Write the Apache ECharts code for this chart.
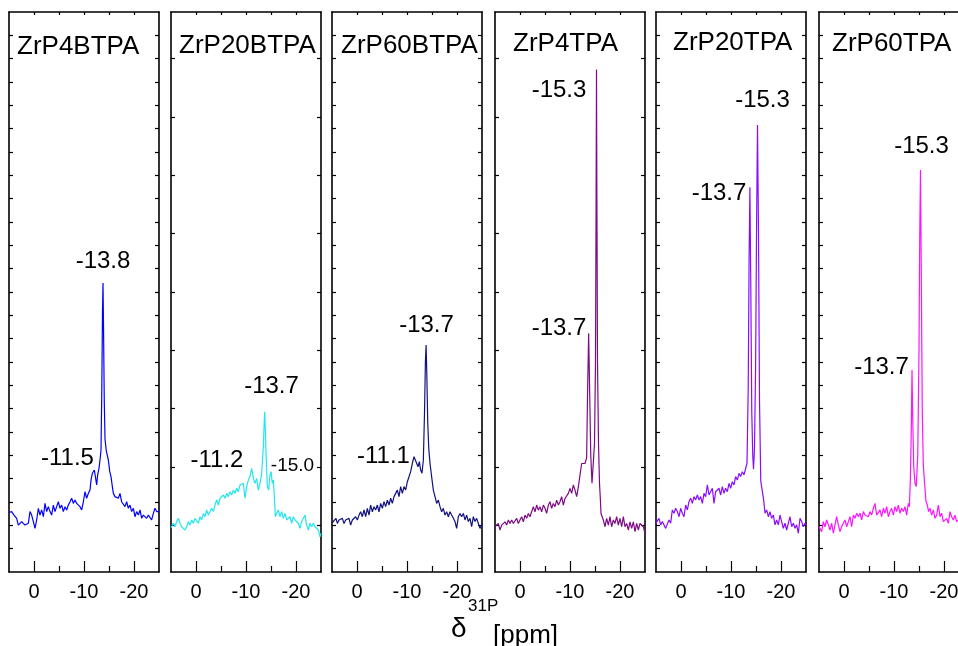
<!DOCTYPE html>
<html><head><meta charset="utf-8">
<script src="https://cdn.jsdelivr.net/npm/echarts@6/dist/echarts.min.js"></script>
<style>html,body{margin:0;padding:0;background:#fff}#c{width:958px;height:646px}</style>
</head><body><div id="c"></div>
<script>
// ---------- data ----------
const names = ['ZrP4BTPA','ZrP20BTPA','ZrP60BTPA','ZrP4TPA','ZrP20TPA','ZrP60TPA'];

// spectra: [delta ppm, intensity]
const p1 = [[5.0,2.55],[4.8,2.59],[4.47,2.59],[4.0,2.44],[3.47,2.30],[3.13,2.01],[2.47,2.16],[1.8,2.01],[1.13,2.09],[0.8,2.59],[0.47,2.44],[0.13,2.16],[-0.2,1.87],[-0.53,2.23],[-0.87,2.73],[-1.2,2.44],[-1.53,2.66],[-1.87,2.37],[-2.2,2.94],[-2.53,2.59],[-2.87,2.80],[-3.2,2.59],[-3.53,2.44],[-3.87,2.87],[-4.2,2.59],[-4.53,2.80],[-4.87,3.01],[-5.2,2.73],[-5.53,2.87],[-5.87,2.59],[-6.2,2.80],[-6.53,2.66],[-6.87,2.87],[-7.2,3.01],[-7.53,3.16],[-7.87,2.94],[-8.2,3.09],[-8.53,2.94],[-8.87,3.01],[-9.2,2.80],[-9.53,2.66],[-9.87,3.01],[-10.2,3.44],[-10.53,3.16],[-10.87,3.37],[-11.2,3.51],[-11.4,3.94],[-11.67,4.23],[-11.87,4.16],[-12.07,4.37],[-12.33,4.01],[-12.53,3.73],[-12.73,4.16],[-13.0,4.44],[-13.2,4.80],[-13.4,5.23],[-13.55,7.6],[-13.7,11.2],[-13.8,12.39],[-13.9,10.6],[-14.05,7.4],[-14.2,5.7],[-14.45,5.2],[-14.87,4.80],[-15.15,4.3],[-15.4,4.09],[-15.67,3.66],[-15.87,3.37],[-16.2,3.23],[-16.53,3.30],[-16.87,3.16],[-17.2,3.37],[-17.53,3.01],[-17.87,3.09],[-18.2,2.80],[-18.53,3.01],[-18.87,2.73],[-19.2,2.87],[-19.53,2.59],[-19.87,2.73],[-20.2,2.37],[-20.53,2.59],[-20.87,2.44],[-21.2,2.66],[-21.53,2.30],[-21.87,2.44],[-22.2,2.51],[-22.53,2.30],[-22.87,2.44],[-23.2,2.51],[-23.53,2.23],[-23.87,2.51],[-24.2,2.73],[-24.53,2.59],[-24.87,2.66],[-25.0,2.59]];

const p2 = [[5.0,1.9],[4.87,1.94],[4.53,2.09],[4.2,1.94],[3.87,2.16],[3.53,2.30],[3.2,2.09],[2.87,1.94],[2.53,2.01],[2.2,1.80],[1.87,1.94],[1.53,2.16],[1.2,2.01],[0.87,2.23],[0.53,2.09],[0.2,2.30],[-0.13,2.23],[-0.47,2.09],[-0.8,2.37],[-1.13,2.23],[-1.47,2.51],[-1.8,2.37],[-2.13,2.66],[-2.47,2.44],[-2.8,2.51],[-3.13,2.73],[-3.47,2.59],[-3.8,2.87],[-4.13,3.09],[-4.47,2.87],[-4.8,3.16],[-5.13,3.09],[-5.47,3.30],[-5.8,3.16],[-6.13,3.37],[-6.47,3.23],[-6.8,3.44],[-7.13,3.30],[-7.47,3.51],[-7.8,3.37],[-8.13,3.59],[-8.47,3.44],[-8.8,3.73],[-9.13,3.66],[-9.47,3.80],[-9.8,3.16],[-10.13,3.66],[-10.47,3.94],[-10.8,4.09],[-11.13,4.44],[-11.47,4.01],[-11.8,3.80],[-12.13,4.01],[-12.47,3.51],[-12.8,3.80],[-13.13,4.23],[-13.47,5.37],[-13.6,6.2],[-13.73,6.87],[-13.87,6.1],[-14.0,5.1],[-14.27,3.66],[-14.53,3.51],[-14.8,4.16],[-15.0,4.30],[-15.27,3.80],[-15.47,3.94],[-15.67,3.23],[-15.87,2.37],[-16.13,2.51],[-16.47,2.66],[-16.8,2.37],[-17.13,2.59],[-17.47,2.30],[-17.8,2.51],[-18.13,2.23],[-18.47,2.16],[-18.8,2.37],[-19.13,2.09],[-19.47,2.37],[-19.8,2.23],[-20.13,2.30],[-20.47,2.09],[-20.8,1.87],[-21.13,2.16],[-21.47,2.23],[-21.8,2.44],[-22.13,2.01],[-22.47,1.80],[-22.8,2.09],[-23.13,1.94],[-23.47,2.09],[-23.8,1.94],[-24.13,2.01],[-24.47,1.80],[-24.8,1.51],[-25.0,1.66]];

const p3 = [[5.0,2.1],[4.6,2.08],[4.2,2.30],[3.93,2.08],[3.6,2.23],[3.27,2.16],[2.93,2.30],[2.6,2.08],[2.27,2.23],[1.93,2.16],[1.6,2.30],[1.27,2.01],[0.93,2.23],[0.6,2.16],[0.27,2.37],[-0.07,2.23],[-0.4,2.44],[-0.73,2.58],[-1.07,2.37],[-1.4,2.66],[-1.73,2.37],[-2.07,2.73],[-2.4,2.44],[-2.73,2.87],[-3.07,2.58],[-3.4,2.80],[-3.73,2.66],[-4.07,2.87],[-4.4,2.58],[-4.73,2.94],[-5.07,2.73],[-5.4,3.01],[-5.73,2.80],[-6.07,3.08],[-6.4,2.87],[-6.73,3.16],[-7.07,2.94],[-7.4,3.23],[-7.73,3.37],[-8.07,3.51],[-8.4,3.23],[-8.73,3.66],[-9.07,3.37],[-9.4,3.66],[-9.73,3.51],[-10.07,3.87],[-10.4,4.08],[-10.73,4.30],[-11.07,4.66],[-11.4,4.94],[-11.67,4.80],[-11.93,4.87],[-12.2,4.51],[-12.47,4.73],[-12.73,4.37],[-13.0,4.23],[-13.27,4.80],[-13.5,6.8],[-13.68,9.0],[-13.82,9.73],[-13.97,8.4],[-14.15,6.4],[-14.35,5.3],[-14.6,4.66],[-14.93,4.08],[-15.27,3.51],[-15.6,3.23],[-15.93,2.94],[-16.27,3.08],[-16.6,2.80],[-16.93,2.58],[-17.27,2.73],[-17.6,2.44],[-17.93,2.58],[-18.27,2.37],[-18.6,2.58],[-18.93,2.44],[-19.27,2.30],[-19.6,2.16],[-19.93,1.87],[-20.27,2.37],[-20.6,2.51],[-20.93,2.37],[-21.27,2.51],[-21.6,2.23],[-21.93,2.44],[-22.27,2.16],[-22.6,2.30],[-22.93,1.94],[-23.27,2.37],[-23.6,2.16],[-23.93,2.30],[-24.27,2.08],[-24.6,1.87],[-24.93,2.01],[-25.0,2.05]];

const p4 = [[5.0,1.95],[4.67,1.94],[4.33,2.08],[4.0,1.80],[3.67,2.01],[3.33,1.94],[3.0,2.15],[2.67,2.01],[2.33,2.23],[2.0,2.08],[1.67,2.23],[1.33,2.08],[1.0,2.15],[0.67,2.30],[0.33,2.08],[0.0,2.23],[-0.33,2.37],[-0.67,2.15],[-1.0,2.44],[-1.33,2.30],[-1.67,2.51],[-2.0,2.37],[-2.33,2.58],[-2.67,2.80],[-3.0,2.58],[-3.33,2.87],[-3.67,2.65],[-4.0,2.80],[-4.33,2.58],[-4.67,2.87],[-5.0,2.73],[-5.33,2.51],[-5.67,2.87],[-6.0,3.01],[-6.33,2.73],[-6.67,2.94],[-7.0,2.80],[-7.33,3.08],[-7.67,2.87],[-8.0,3.01],[-8.33,3.23],[-8.67,2.87],[-9.0,3.15],[-9.33,3.08],[-9.67,3.37],[-10.0,3.58],[-10.33,3.37],[-10.67,3.73],[-11.0,3.51],[-11.33,3.23],[-11.67,3.65],[-12.0,3.73],[-12.33,4.65],[-12.67,4.58],[-13.0,4.65],[-13.33,4.9],[-13.5,7.5],[-13.73,10.23],[-13.95,7.5],[-14.15,5.0],[-14.4,3.80],[-14.67,3.87],[-14.9,5.5],[-15.1,9.0],[-15.22,16.0],[-15.3,21.54],[-15.38,16.0],[-15.5,9.0],[-15.7,5.5],[-15.9,3.8],[-16.05,3.2],[-16.2,2.51],[-16.47,2.44],[-16.67,2.23],[-17.0,1.94],[-17.33,2.30],[-17.67,2.01],[-18.0,2.37],[-18.33,1.94],[-18.67,2.23],[-19.0,2.08],[-19.33,2.37],[-19.67,2.01],[-20.0,2.30],[-20.33,1.94],[-20.67,2.37],[-21.0,1.94],[-21.33,2.08],[-21.67,1.80],[-22.0,2.15],[-22.33,1.87],[-22.67,2.15],[-23.0,1.73],[-23.33,2.08],[-23.67,1.80],[-24.0,2.08],[-24.33,2.01],[-24.67,1.94],[-25.0,1.66]];

const p5 = [[5.0,2.1],[4.73,2.09],[4.4,2.30],[4.07,2.02],[3.73,2.16],[3.4,2.09],[3.07,1.87],[2.73,1.80],[2.4,2.23],[2.07,2.09],[1.73,2.66],[1.4,2.52],[1.07,2.73],[0.73,2.59],[0.4,2.37],[0.07,2.73],[-0.27,2.52],[-0.6,2.37],[-0.93,2.87],[-1.27,2.66],[-1.6,3.02],[-1.93,3.16],[-2.27,2.94],[-2.6,3.23],[-2.93,3.09],[-3.27,3.30],[-3.6,3.09],[-3.93,3.23],[-4.27,2.94],[-4.6,3.37],[-4.93,3.23],[-5.27,3.73],[-5.6,3.30],[-5.93,3.23],[-6.27,3.59],[-6.6,2.94],[-6.93,3.44],[-7.27,3.37],[-7.6,3.59],[-7.93,3.30],[-8.27,3.66],[-8.6,3.37],[-8.93,3.59],[-9.27,3.44],[-9.6,3.80],[-9.93,3.59],[-10.27,3.87],[-10.6,3.73],[-10.93,4.09],[-11.27,3.94],[-11.6,4.23],[-11.93,4.09],[-12.27,4.30],[-12.6,4.16],[-12.93,4.09],[-13.2,4.66],[-13.45,8.0],[-13.62,13.5],[-13.78,16.49],[-13.95,12.5],[-14.15,6.9],[-14.35,5.0],[-14.5,4.4],[-14.7,5.3],[-14.92,8.8],[-15.12,15.0],[-15.3,19.16],[-15.5,14.52],[-15.7,7.37],[-15.95,3.9],[-16.2,3.55],[-16.53,3.09],[-16.8,2.52],[-17.13,2.66],[-17.47,2.37],[-17.8,2.59],[-18.13,2.30],[-18.47,2.44],[-18.8,2.02],[-19.13,2.23],[-19.47,2.02],[-19.8,2.44],[-20.13,2.16],[-20.47,1.87],[-20.8,2.09],[-21.13,1.80],[-21.47,2.09],[-21.8,2.37],[-22.13,1.94],[-22.47,2.09],[-22.8,1.87],[-23.13,2.02],[-23.47,1.66],[-23.8,2.30],[-24.13,2.16],[-24.47,1.94],[-24.8,2.09],[-25.0,2.02]];

const p6 = [[5.0,1.95],[4.8,1.94],[4.47,1.73],[4.13,2.16],[3.8,1.94],[3.47,2.23],[3.13,2.02],[2.8,1.80],[2.47,2.09],[2.13,1.66],[1.8,2.02],[1.47,2.37],[1.13,2.02],[0.8,1.73],[0.47,1.94],[0.13,2.09],[-0.2,2.23],[-0.53,1.94],[-0.87,2.16],[-1.2,2.37],[-1.53,1.94],[-1.87,2.44],[-2.2,2.30],[-2.53,2.52],[-2.87,2.37],[-3.2,2.52],[-3.53,2.23],[-3.87,2.59],[-4.2,2.44],[-4.53,2.52],[-4.87,2.37],[-5.2,2.59],[-5.53,2.44],[-5.87,2.73],[-6.2,2.94],[-6.53,2.44],[-6.87,2.52],[-7.2,2.66],[-7.53,2.37],[-7.87,2.73],[-8.2,2.52],[-8.53,2.80],[-8.87,2.37],[-9.2,2.59],[-9.53,2.73],[-9.87,2.44],[-10.2,2.80],[-10.53,2.59],[-10.87,2.87],[-11.2,2.52],[-11.53,2.73],[-11.87,2.59],[-12.2,2.80],[-12.53,2.44],[-12.87,2.94],[-13.07,2.80],[-13.27,3.94],[-13.45,6.0],[-13.6,8.66],[-13.75,6.5],[-13.95,4.5],[-14.2,3.8],[-14.45,3.66],[-14.75,5.0],[-15.0,9.5],[-15.15,14.5],[-15.3,17.23],[-15.45,13.0],[-15.65,7.0],[-15.85,4.66],[-16.07,3.94],[-16.4,3.02],[-16.67,2.87],[-16.93,2.59],[-17.2,2.73],[-17.53,2.44],[-17.87,2.66],[-18.2,2.30],[-18.53,2.44],[-18.87,2.87],[-19.2,2.37],[-19.53,2.52],[-19.87,2.16],[-20.2,2.09],[-20.53,2.30],[-20.87,2.09],[-21.2,2.59],[-21.53,2.37],[-21.87,2.23],[-22.2,2.44],[-22.53,2.16],[-22.87,2.09],[-23.2,2.3],[-23.6,2.1],[-24.0,2.25],[-24.5,2.0],[-25.0,2.1]];

// peak annotation texts per panel
const peakText1 = ['-13.8','-11.5'];
const peakText2 = ['-11.2','-13.7','-15.0'];
const peakText3 = ['-13.7','-11.1'];
const peakText4 = ['-15.3','-13.7'];
const peakText5 = ['-13.7','-15.3'];
const peakText6 = ['-15.3','-13.7'];

// axis tick values
const xMajorTicks = [0,-10,-20];
const xMinorTicks = [-5,-15];
const xTopTicks = [0,-5,-10,-15,-20];
const yTicksFine = [1,2,3,4,5,6,7,8,9,10,11,12,13,14,15,16,17,18,19,20,21,22,23];
const yTicksCoarse = [2,4.5,7,9.5,12,14.5,17,19.5,22];

// ---------- layout / style ----------
const F = "'Liberation Sans', Arial, Helvetica, sans-serif";
const colors = ['#0000ff','#22e6ef','#12127e','#7e0a86','#8a0cff','#ff14ff'];
const lefts = [9,171,332,495,656,819];
const titleLefts = [17,179,341,513,673,832];
const titleTops = [34,33,33,31,30,31];
const spectra = [p1,p2,p3,p4,p5,p6];
const texts = [peakText1,peakText2,peakText3,peakText4,peakText5,peakText6];
const anchors = [
  [[-13.8,13.33],[-6.7,4.89]],
  [[-4.2,4.80],[-15.1,7.97],[-19.3,4.54]],
  [[-13.9,10.59],[-5.3,4.97]],
  [[-7.8,20.66],[-7.8,10.42]],
  [[-7.6,16.24],[-16.3,20.23]],
  [[-15.5,18.22],[-7.5,8.79]]
];
const labelSizes = [[24,24],[24,24,19],[24,24],[24,24],[24,24],[24,24]];
const yTickSets = [yTicksFine,yTicksCoarse,yTicksFine,yTicksCoarse,yTicksFine,yTicksFine];

const grid=[], xAxis=[], yAxis=[], series=[], title=[];
const tickLine = {color:'#000', width:1.2};
const boxLine = {color:'#000', width:1.6};
for (let i=0;i<6;i++){
  grid.push({left:lefts[i], top:12, width:150, height:560, show:false, containLabel:false, outerBoundsMode:'none'});
  const xb = {gridIndex:i, type:'value', min:-25, max:5, inverse:true, splitLine:{show:false}};
  xAxis.push(Object.assign({}, xb, {position:'bottom',
    axisLine:{show:true,onZero:false,lineStyle:boxLine},
    axisTick:{show:true,inside:true,length:11,customValues:xMajorTicks,lineStyle:tickLine},
    axisLabel:{show:true,customValues:xMajorTicks,fontSize:20,color:'#000',fontFamily:F,margin:10}}));
  xAxis.push(Object.assign({}, xb, {position:'bottom',
    axisLine:{show:false,onZero:false},
    axisTick:{show:true,inside:true,length:6,customValues:xMinorTicks,lineStyle:tickLine},
    axisLabel:{show:false}}));
  xAxis.push(Object.assign({}, xb, {position:'top',
    axisLine:{show:true,onZero:false,lineStyle:boxLine},
    axisTick:{show:true,inside:true,length:3,customValues:xTopTicks,lineStyle:tickLine},
    axisLabel:{show:false}}));
  const yb = {gridIndex:i, type:'value', min:0, max:24, splitLine:{show:false}, axisLabel:{show:false}};
  yAxis.push(Object.assign({}, yb, {position:'left',
    axisLine:{show:true,onZero:false,lineStyle:boxLine},
    axisTick:{show:true,inside:true,length:4,customValues:yTickSets[i],lineStyle:tickLine}}));
  yAxis.push(Object.assign({}, yb, {position:'right',
    axisLine:{show:true,onZero:false,lineStyle:boxLine},
    axisTick:{show:true,inside:true,length:4,customValues:yTickSets[i],lineStyle:tickLine}}));

  series.push({type:'line', xAxisIndex:3*i, yAxisIndex:2*i, data:spectra[i],
    symbol:'none', showSymbol:false, silent:true, animation:false,
    lineStyle:{color:colors[i], width:1.2}, itemStyle:{color:colors[i]}});
  series.push({type:'scatter', xAxisIndex:3*i, yAxisIndex:2*i, silent:true, animation:false,
    symbolSize:0, itemStyle:{color:'#000', opacity:1},
    data: anchors[i].map((a,k)=>({value:a, label:{fontSize:labelSizes[i][k], formatter:texts[i][k], color:'#000', opacity:1}})),
    label:{show:true, position:[0,0], align:'center', verticalAlign:'middle',
      color:'#000', textBorderWidth:0, fontFamily:F}});
  title.push({text:names[i], left:titleLefts[i], top:titleTops[i], padding:0,
    textStyle:{fontSize:26, fontWeight:'normal', color:'#000', fontFamily:F}});
}

const option = {
  animation:false,
  backgroundColor:'#fff',
  title, grid, xAxis, yAxis, series,
  graphic:[
    {type:'text', left:451, top:615, silent:true, style:{text:'δ', fontSize:28, fontFamily:F, fill:'#000'}},
    {type:'text', left:468, top:598, silent:true, style:{text:'31P', fontSize:17, fontFamily:F, fill:'#000'}},
    {type:'text', left:493, top:623, silent:true, style:{text:'[ppm]', fontSize:26, fontFamily:F, fill:'#000'}}
  ]
};
const chart = echarts.init(document.getElementById('c'), null, {renderer:'canvas', width:958, height:646});
chart.setOption(option);
</script>
</body></html>
